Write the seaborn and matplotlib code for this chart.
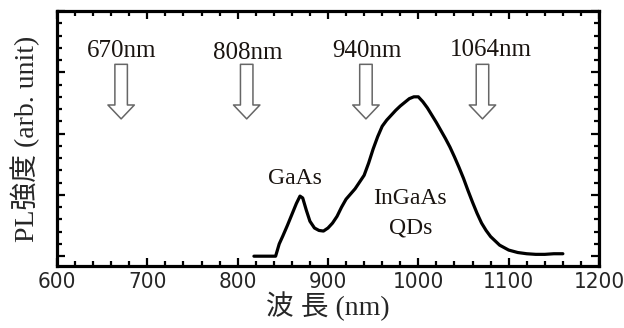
import matplotlib
matplotlib.use("Agg")
import matplotlib.pyplot as plt
import seaborn as sns
from matplotlib.ticker import MultipleLocator, NullFormatter

# PL spectrum
wavelength = [818, 842, 846, 850, 855, 860, 865, 869, 872, 876, 880, 885, 890,
              895, 900, 905, 910, 915, 920, 930, 940, 945, 950, 955, 960, 965,
              970, 975, 980, 985, 990, 995, 1000, 1005, 1010, 1015, 1020, 1025,
              1030, 1035, 1040, 1045, 1050, 1055, 1060, 1065, 1070, 1075, 1080,
              1090, 1100, 1110, 1120, 1130, 1140, 1150, 1160]
intensity = [0.0, 0.0, 0.2, 0.33, 0.5, 0.68, 0.86, 0.98, 0.95, 0.75, 0.57, 0.46,
             0.42, 0.41, 0.46, 0.54, 0.65, 0.8, 0.93, 1.1, 1.32, 1.52, 1.75,
             1.95, 2.12, 2.22, 2.3, 2.38, 2.45, 2.51, 2.57, 2.6, 2.6, 2.52, 2.42,
             2.3, 2.18, 2.05, 1.92, 1.78, 1.62, 1.45, 1.27, 1.07, 0.88, 0.7,
             0.54, 0.42, 0.32, 0.18, 0.1, 0.06, 0.04, 0.03, 0.03, 0.04, 0.04]

# laser lines marked with hollow arrows
laser_labels = ["670nm", "808nm", "940nm", "1064nm"]
laser_x = [671, 810, 942, 1071]
laser_text_x = [672, 811, 943, 1080]
laser_text_y = [3.35, 3.31, 3.34, 3.36]

sns.set_style("ticks")
serif = ["Liberation Serif", "Noto Sans CJK JP", "DejaVu Serif"]

fig = plt.figure(figsize=(6.24, 3.28), dpi=100)
ax = fig.add_axes([57 / 624, 1 - 266 / 328, 542 / 624, 255 / 328])

sns.lineplot(x=wavelength, y=intensity, ax=ax, color="black", lw=2.3)

for lab, xa, xt, yt in zip(laser_labels, laser_x, laser_text_x, laser_text_y):
    ax.annotate("", xy=(xa, 2.24), xytext=(xa, 3.13),
                arrowprops=dict(arrowstyle="simple,head_length=1.0,head_width=1.9,tail_width=0.9",
                                mutation_scale=10, fc="white", ec="#666666",
                                lw=1.1, shrinkA=0, shrinkB=0))
    ax.text(xt, yt, lab, ha="center", va="center", fontsize=18,
            family=serif, color="#1a1410")

ax.text(863.5, 1.26, "GaAs", ha="center", va="center", fontsize=17,
        family=serif, color="#1a1410")
ax.text(991, 0.94, "InGaAs", ha="center", va="center", fontsize=17,
        family=serif, color="#1a1410")
ax.text(991, 0.46, "QDs", ha="center", va="center", fontsize=17,
        family=serif, color="#1a1410")

ax.set_xlim(600, 1200)
ax.set_ylim(-0.16, 4.0)
ax.xaxis.set_major_locator(MultipleLocator(100))
ax.xaxis.set_minor_locator(MultipleLocator(20))
ax.yaxis.set_major_locator(MultipleLocator(1))
ax.yaxis.set_minor_locator(MultipleLocator(0.2))
ax.yaxis.set_major_formatter(NullFormatter())

for sp in ax.spines.values():
    sp.set_visible(True)
    sp.set_linewidth(2.3)
    sp.set_color("black")

ax.tick_params(which="both", direction="in", top=True, right=True,
               width=1.6, color="black")
ax.tick_params(which="major", length=6)
ax.tick_params(which="minor", length=3.5)
ax.tick_params(axis="x", which="major", labelsize=16, pad=4)
for t in ax.get_xticklabels():
    t.set_family("DejaVu Sans")
    t.set_stretch("condensed")

ax.set_xlabel("波 長 (nm)", fontsize=20, family=serif, labelpad=0)
ax.set_ylabel("PL強度 (arb. unit)", fontsize=20, family=serif, labelpad=9)

fig.savefig("out.png", dpi=100)
